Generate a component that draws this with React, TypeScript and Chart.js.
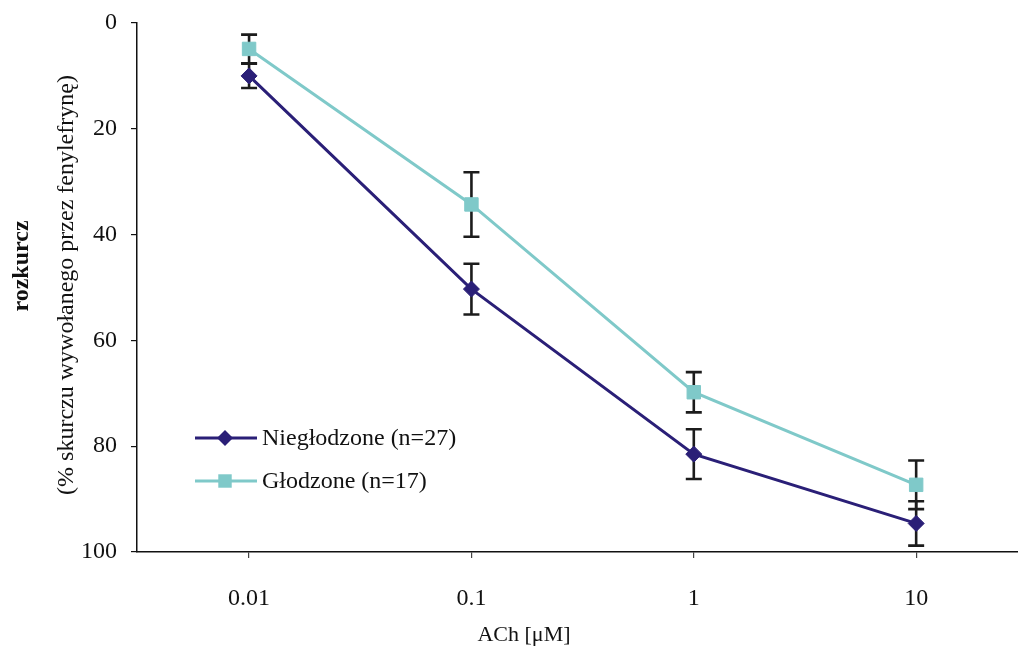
import React, { useEffect, useRef } from "react";
import { Chart, registerables } from "chart.js";

Chart.register(...registerables);

const categories = ["0.01", "0.1", "1", "10"];
const niegValues = [10, 50.3, 81.5, 94.6];
const niegErrors = [2.3, 4.8, 4.7, 4.2];
const glodValues = [4.9, 34.3, 69.8, 87.3];
const glodErrors = [2.7, 6.1, 3.8, 4.6];
const seriesNames = ["Niegłodzone (n=27)", "Głodzone (n=17)"];
const yTicks = [0, 20, 40, 60, 80, 100];

const NAVY = "#2a1f77";
const CYAN = "#7fc9c9";
const FONT = "'Liberation Serif', 'Times New Roman', serif";

const errorBarPlugin = {
  id: "errorBars",
  beforeDatasetsDraw(chart: any) {
    const ctx = chart.ctx;
    const xs = chart.scales.x;
    const ys = chart.scales.y;
    ctx.save();
    ctx.strokeStyle = "#1c1c1c";
    ctx.lineWidth = 2.6;
    chart.data.datasets.forEach((ds: any) => {
      const errs: number[] = ds.errors || [];
      ds.data.forEach((pt: any, i: number) => {
        const e = errs[i];
        if (e == null) return;
        const x = xs.getPixelForValue(pt.x);
        const y1 = ys.getPixelForValue(pt.y - e);
        const y2 = ys.getPixelForValue(pt.y + e);
        ctx.beginPath();
        ctx.moveTo(x, y1);
        ctx.lineTo(x, y2);
        ctx.moveTo(x - 8, y1);
        ctx.lineTo(x + 8, y1);
        ctx.moveTo(x - 8, y2);
        ctx.lineTo(x + 8, y2);
        ctx.stroke();
      });
    });
    ctx.restore();
  },
};

const legendPlugin = {
  id: "insideLegend",
  afterDatasetsDraw(chart: any) {
    const ctx = chart.ctx;
    ctx.save();
    const rows = [438, 481];
    chart.data.datasets.forEach((ds: any, i: number) => {
      const y = rows[i];
      ctx.strokeStyle = ds.borderColor;
      ctx.lineWidth = ds.borderWidth;
      ctx.beginPath();
      ctx.moveTo(195, y);
      ctx.lineTo(257, y);
      ctx.stroke();
      ctx.fillStyle = ds.pointBackgroundColor;
      ctx.beginPath();
      if (ds.pointStyle === "rectRot") {
        const r = ds.pointRadius;
        ctx.moveTo(225 - r, y);
        ctx.lineTo(225, y - r);
        ctx.lineTo(225 + r, y);
        ctx.lineTo(225, y + r);
        ctx.closePath();
      } else {
        const s = ds.pointRadius * Math.SQRT1_2;
        ctx.rect(225 - s, y - s, 2 * s, 2 * s);
      }
      ctx.fill();
      ctx.fillStyle = "#111";
      ctx.font = `24px ${FONT}`;
      ctx.textBaseline = "middle";
      ctx.textAlign = "left";
      ctx.fillText(ds.label, 262, y + 1);
    });
    ctx.restore();
  },
};

const titlesPlugin = {
  id: "axisTitles",
  afterDraw(chart: any) {
    const ctx = chart.ctx;
    ctx.save();
    ctx.fillStyle = "#111";
    ctx.textAlign = "center";
    ctx.textBaseline = "middle";
    ctx.font = `22px ${FONT}`;
    ctx.fillText("ACh [\u03bcM]", 524, 635);
    ctx.save();
    ctx.translate(22, 266);
    ctx.rotate(-Math.PI / 2);
    ctx.font = `bold 24px ${FONT}`;
    ctx.fillText("rozkurcz", 0, 0);
    ctx.restore();
    ctx.save();
    ctx.translate(67, 285);
    ctx.rotate(-Math.PI / 2);
    ctx.font = `24px ${FONT}`;
    ctx.fillText("(% skurczu wywołanego przez fenylefrynę)", 0, 0);
    ctx.restore();
    ctx.restore();
  },
};

export default function App() {
  const ref = useRef<HTMLCanvasElement | null>(null);
  useEffect(() => {
    if (!ref.current) return;
    const toPts = (vals: number[]) => vals.map((v, i) => ({ x: i, y: v }));
    const chart = new Chart(ref.current, {
      type: "line",
      data: {
        datasets: [
          {
            label: seriesNames[0],
            data: toPts(niegValues),
            errors: niegErrors,
            borderColor: NAVY,
            backgroundColor: NAVY,
            pointBackgroundColor: NAVY,
            pointBorderColor: NAVY,
            pointStyle: "rectRot",
            pointRadius: 8,
            pointBorderWidth: 1,
            borderWidth: 3,
            tension: 0,
          } as any,
          {
            label: seriesNames[1],
            data: toPts(glodValues),
            errors: glodErrors,
            borderColor: CYAN,
            backgroundColor: CYAN,
            pointBackgroundColor: CYAN,
            pointBorderColor: CYAN,
            pointStyle: "rect",
            pointRadius: 9.5,
            pointBorderWidth: 1,
            borderWidth: 3,
            tension: 0,
          } as any,
        ],
      },
      options: {
        responsive: false,
        animation: false,
        clip: false,
        layout: { autoPadding: false, padding: { top: 23, left: 0, right: 0, bottom: 0 } },
        plugins: {
          legend: { display: false },
          tooltip: { enabled: false },
        },
        scales: {
          x: {
            type: "linear",
            min: -0.504,
            max: 3.458,
            afterBuildTicks: (scale: any) => {
              scale.ticks = categories.map((_, i) => ({ value: i }));
            },
            afterFit: (scale: any) => {
              scale.height = 96;
              scale.paddingLeft = 0;
              scale.paddingRight = 0;
            },
            ticks: {
              callback: (v: any) => categories[v as number] ?? "",
              font: { family: FONT, size: 24 },
              color: "#111",
              padding: 26,
              maxRotation: 0,
              autoSkip: false,
            },
            grid: {
              drawOnChartArea: false,
              drawTicks: true,
              tickLength: 6,
              color: "#444",
              lineWidth: 1.2,
            },
            border: { color: "#111", width: 1.5 },
          },
          y: {
            min: 0,
            max: 100,
            reverse: true,
            afterBuildTicks: (scale: any) => {
              scale.ticks = yTicks.map((v) => ({ value: v }));
            },
            afterFit: (scale: any) => {
              scale.width = 137;
              scale.paddingTop = 0;
              scale.paddingBottom = 0;
            },
            ticks: {
              font: { family: FONT, size: 24 },
              color: "#111",
              padding: 14,
            },
            grid: {
              drawOnChartArea: false,
              drawTicks: true,
              tickLength: 6,
              color: "#111",
              lineWidth: 1.2,
            },
            border: { color: "#111", width: 1.5 },
          },
        },
      } as any,
      plugins: [errorBarPlugin, legendPlugin, titlesPlugin],
    });
    return () => chart.destroy();
  }, []);
  return (
    <div style={{ position: "fixed", left: 0, top: 0, width: 1018, height: 648, background: "#fff" }}>
      <canvas ref={ref} width={1018} height={648} style={{ width: 1018, height: 648, display: "block" }} />
    </div>
  );
}
